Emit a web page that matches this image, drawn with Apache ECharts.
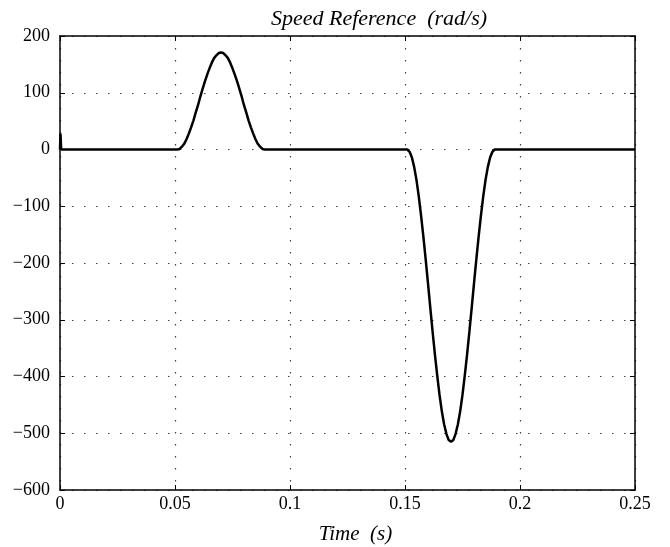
<!DOCTYPE html>
<html>
<head>
<meta charset="utf-8">
<script src="https://cdn.jsdelivr.net/npm/echarts@6/dist/echarts.min.js"></script>
<style>
  html, body { margin: 0; padding: 0; background: #fff; }
  #chart { width: 670px; height: 547px; }
</style>
</head>
<body>
<div id="chart"></div>
<script>
// values
var time = [
  0, 0.0002, 0.0005,
  0.051, 0.052, 0.053, 0.054, 0.055, 0.056, 0.057, 0.058, 0.059, 0.060,
  0.061, 0.062, 0.063, 0.064, 0.065, 0.066, 0.067, 0.068, 0.069, 0.070,
  0.071, 0.072, 0.073, 0.074, 0.075, 0.076, 0.077, 0.078, 0.079, 0.080,
  0.081, 0.082, 0.083, 0.084, 0.085, 0.086, 0.087, 0.088, 0.089,
  0.151, 0.152, 0.153, 0.154, 0.155, 0.156, 0.157, 0.158, 0.159, 0.160,
  0.161, 0.162, 0.163, 0.164, 0.165, 0.166, 0.167, 0.168, 0.169, 0.170,
  0.171, 0.172, 0.173, 0.174, 0.175, 0.176, 0.177, 0.178, 0.179, 0.180,
  0.181, 0.182, 0.183, 0.184, 0.185, 0.186, 0.187, 0.188, 0.189,
  0.25
];
var speed = [
  0, 28, 0,
  0, 1, 5, 10, 18, 28, 39, 51, 65, 78,
  93, 107, 120, 132, 143, 153, 161, 166, 170, 171,
  170, 166, 161, 153, 143, 132, 120, 107, 93, 78,
  65, 51, 39, 28, 18, 10, 5, 1, 0,
  0, -4, -14, -31, -54, -83, -117, -154, -194, -236,
  -279, -321, -361, -398, -432, -461, -484, -501, -512, -515,
  -512, -501, -484, -461, -432, -398, -361, -321, -279, -236,
  -194, -154, -117, -83, -54, -31, -14, -4, 0,
  0
];
var xTicks = [0, 0.05, 0.1, 0.15, 0.2, 0.25];
var yTicks = [-600, -500, -400, -300, -200, -100, 0, 100, 200];

var font = 'Liberation Serif';
var points = time.map(function (t, i) { return [t, speed[i]]; });

var gridDots = { show: true, lineStyle: { color: '#444', width: 1.2, type: [1.5, 10.5] } };
var frameLine = { show: true, onZero: false, lineStyle: { color: '#000', width: 1.5 } };
var innerTick = { show: true, inside: true, length: 5, lineStyle: { color: '#000', width: 1 } };

function minusFmt(v) {
  return String(v).replace('-', '\u2212');
}

var chart = echarts.init(document.getElementById('chart'));
chart.setOption({
  animation: false,
  backgroundColor: '#fff',
  title: {
    text: 'Speed Reference  (rad/s)',
    left: 266,
    top: 3,
    textStyle: { fontFamily: font, fontStyle: 'italic', fontWeight: 'normal', fontSize: 22, color: '#000' }
  },
  grid: { left: 60, right: 35, top: 36, bottom: 57, outerBoundsMode: 'none' },
  xAxis: [{
    type: 'value',
    min: xTicks[0], max: xTicks[xTicks.length - 1], interval: 0.05,
    name: 'Time  (s)',
    nameLocation: 'middle',
    nameGap: 34,
    nameTextStyle: { fontFamily: font, fontStyle: 'italic', fontSize: 21, color: '#000', padding: [0, 0, 0, 16] },
    axisLine: frameLine, axisTick: innerTick, splitLine: gridDots,
    axisLabel: { fontFamily: font, fontSize: 18, color: '#000', margin: 5 }
  }, {
    type: 'value', position: 'top',
    min: xTicks[0], max: xTicks[xTicks.length - 1], interval: 0.05,
    axisLine: frameLine, axisTick: innerTick, splitLine: { show: false },
    axisLabel: { show: false }
  }],
  yAxis: [{
    type: 'value',
    min: yTicks[0], max: yTicks[yTicks.length - 1], interval: 100,
    axisLine: frameLine, axisTick: innerTick, splitLine: gridDots,
    axisLabel: { fontFamily: font, fontSize: 18, color: '#000', margin: 10, formatter: minusFmt }
  }, {
    type: 'value', position: 'right',
    min: yTicks[0], max: yTicks[yTicks.length - 1], interval: 100,
    axisLine: frameLine, axisTick: innerTick, splitLine: { show: false },
    axisLabel: { show: false }
  }],
  series: [{
    type: 'line',
    data: points,
    showSymbol: false,
    lineStyle: { color: '#000', width: 2.5 },
    z: 5
  }]
});
</script>
</body>
</html>
